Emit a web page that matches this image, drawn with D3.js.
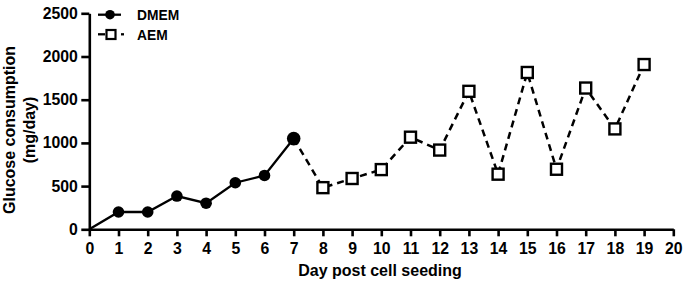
<!DOCTYPE html>
<html><head><meta charset="utf-8">
<script src="https://cdn.jsdelivr.net/npm/d3@7"></script>
<style>body{margin:0;background:#fff}svg{display:block}text{font-family:"Liberation Sans",Arial,sans-serif}</style>
</head><body><svg id="c" width="685" height="282"></svg>
<script>
const dmemDays = [0,1,2,3,4,5,6,7];
const dmemValues = [0,200,200,385,302,539,623,1050];
const aemDays = [7,8,9,10,11,12,13,14,15,16,17,18,19];
const aemValues = [1050,482,588,691,1066,917,1597,638,1815,695,1635,1162,1907];
const xTicks = d3.range(0,21);
const yTicks = [0,500,1000,1500,2000,2500];

const svg = d3.select("#c");
const x = d3.scaleLinear().domain([0,20]).range([89.3,673.3]);
const y = d3.scaleLinear().domain([0,2500]).range([229.3,13.3]);

const xa = svg.append("g").attr("transform","translate(0,229.3)")
  .call(d3.axisBottom(x).tickValues(xTicks).tickFormat(d3.format("d")).tickSize(7).tickSizeOuter(0));
const ya = svg.append("g").attr("transform","translate(89.3,0)")
  .call(d3.axisLeft(y).tickValues(yTicks).tickFormat(d3.format("d")).tickSize(8).tickSizeOuter(0));
[xa,ya].forEach(a=>{
  a.selectAll("path,line").attr("stroke","#000").attr("stroke-width",2.6);
  a.selectAll("text").attr("fill","#000").style("font-size","15.8px").style("font-weight","bold");
});
xa.selectAll("text").attr("y",13.5).attr("dy","0.71em");
ya.selectAll("text").attr("x",-11.5);

const line = d3.line().x(d=>x(d[0])).y(d=>y(d[1]));
const dm = dmemDays.map((d,i)=>[d,dmemValues[i]]);
const ae = aemDays.map((d,i)=>[d,aemValues[i]]);

svg.append("path").datum(ae).attr("d",line).attr("fill","none").attr("stroke","#000")
  .attr("stroke-width",2.5).attr("stroke-dasharray","7,5");
svg.append("path").datum(dm).attr("d",line).attr("fill","none").attr("stroke","#000").attr("stroke-width",2.3);

svg.selectAll("circle.dm").data(dm.slice(1)).enter().append("circle")
  .attr("cx",d=>x(d[0])).attr("cy",d=>y(d[1])).attr("r",(d,i)=>i===6?6.8:5.8).attr("fill","#000");
svg.selectAll("rect.ae").data(ae.slice(1)).enter().append("rect")
  .attr("x",d=>x(d[0])-5.5).attr("y",d=>y(d[1])-5.5).attr("width",11).attr("height",11)
  .attr("fill","#fff").attr("stroke","#000").attr("stroke-width",2.4);

// legend
const lg = svg.append("g");
lg.append("line").attr("x1",98).attr("x2",121).attr("y1",14.7).attr("y2",14.7).attr("stroke","#000").attr("stroke-width",2.3);
lg.append("circle").attr("cx",110).attr("cy",14.7).attr("r",4.8).attr("fill","#000");
lg.append("line").attr("x1",98).attr("x2",105).attr("y1",34.3).attr("y2",34.3).attr("stroke","#000").attr("stroke-width",2.3);
lg.append("line").attr("x1",121).attr("x2",124).attr("y1",34.3).attr("y2",34.3).attr("stroke","#000").attr("stroke-width",2.3);
lg.append("rect").attr("x",106.5).attr("y",30).attr("width",9).attr("height",9).attr("fill","#fff").attr("stroke","#000").attr("stroke-width",2.2);
lg.append("text").attr("x",137).attr("y",20).text("DMEM").style("font-size","13.8px").style("font-weight","bold");
lg.append("text").attr("x",137).attr("y",40).text("AEM").style("font-size","13.8px").style("font-weight","bold");

svg.append("text").attr("x",380).attr("y",276).attr("text-anchor","middle")
  .style("font-size","16px").style("font-weight","bold").text("Day post cell seeding");
const yt = svg.append("text").attr("transform","translate(0,130) rotate(-90)").attr("text-anchor","middle")
  .style("font-size","16px").style("font-weight","bold");
yt.append("tspan").attr("x",0).attr("y",15).text("Glucose consumption");
yt.append("tspan").attr("x",0).attr("y",35).text("(mg/day)");
</script></body></html>
